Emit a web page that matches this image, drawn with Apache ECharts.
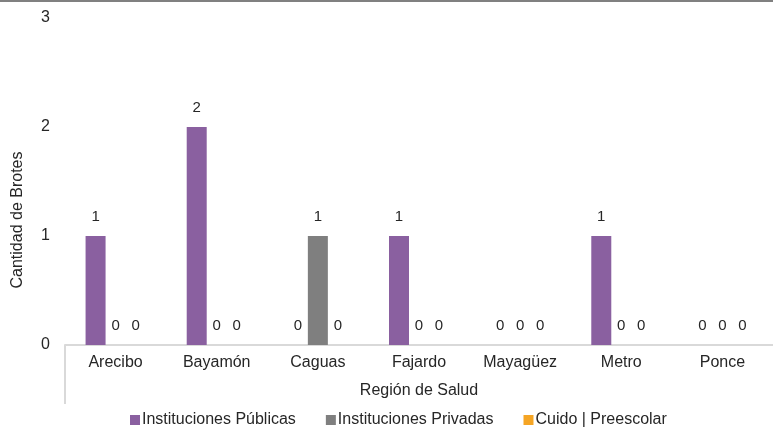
<!DOCTYPE html>
<html>
<head>
<meta charset="utf-8">
<script src="https://cdn.jsdelivr.net/npm/echarts@6/dist/echarts.min.js"></script>
<style>html,body{margin:0;padding:0;background:#fff;}#c{width:773px;height:427px;}</style>
</head>
<body>
<div id="c"></div>
<script>
const categories = ['Arecibo','Bayamón','Caguas','Fajardo','Mayagüez','Metro','Ponce'];
const publicas = [1,2,0,1,0,1,0];
const privadas = [0,0,1,0,0,0,0];
const cuido = [0,0,0,0,0,0,0];
const yTicks = [0,1,2,3];

const font = 'Liberation Sans, Arial, sans-serif';
const txt = '#262626';
const chart = echarts.init(document.getElementById('c'));
const lbl = {show:true, position:'top', distance:12, color:txt, fontSize:15, fontFamily:font};
chart.setOption({
  animation:false,
  textStyle:{fontFamily:font},
  grid:{left:65, right:0, top:18, bottom:82, containLabel:false},
  graphic:[
    {type:'rect', shape:{x:0,y:0,width:773,height:2}, style:{fill:'#808080'}},
    {type:'line', shape:{x1:65,y1:345,x2:65,y2:404}, style:{stroke:'#d9d9d9', lineWidth:2}},
    {type:'text', x:18, y:220, rotation:Math.PI/2, style:{text:'Cantidad de Brotes', fill:txt, font:'16px '+font, align:'center', verticalAlign:'middle'}}
  ],
  xAxis:{type:'category', data:categories,
    name:'Región de Salud', nameLocation:'middle', nameGap:38,
    nameTextStyle:{color:txt, fontSize:16, fontFamily:font},
    axisLine:{lineStyle:{color:'#d9d9d9', width:2}},
    axisTick:{show:false},
    axisLabel:{color:txt, fontSize:16, fontFamily:font, margin:10}
  },
  yAxis:{type:'value', min:0, max:3, interval:1,
    axisLine:{show:false}, axisTick:{show:false}, splitLine:{show:false},
    axisLabel:{color:txt, fontSize:16, fontFamily:font, margin:15,
      formatter:function(v){return yTicks.indexOf(v)>=0?String(v):'';}}
  },
  legend:{top:407, left:125, itemWidth:10, itemHeight:10, itemGap:30, icon:'rect',
    textStyle:{color:txt, fontSize:16, fontFamily:font, padding:[0,0,0,-3]}},
  series:[
    {name:'Instituciones Públicas', type:'bar', data:publicas, barWidth:20, barGap:'0%', itemStyle:{color:'#8A60A0'}, label:lbl},
    {name:'Instituciones Privadas', type:'bar', data:privadas, barWidth:20, barGap:'0%', itemStyle:{color:'#7F7F7F'}, label:lbl},
    {name:'Cuido | Preescolar', type:'bar', data:cuido, barWidth:20, barGap:'0%', itemStyle:{color:'#F5A524'}, label:lbl}
  ]
});
</script>
</body>
</html>
